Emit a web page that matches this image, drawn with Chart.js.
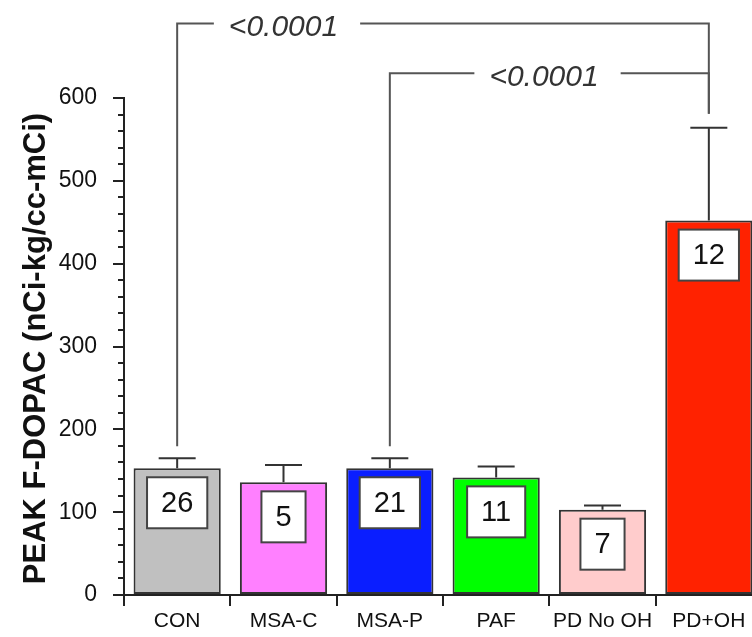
<!DOCTYPE html>
<html>
<head>
<meta charset="utf-8">
<script src="https://cdn.jsdelivr.net/npm/chart.js@4.4.1/dist/chart.umd.min.js"></script>
<style>
  html, body { margin: 0; padding: 0; background: #fff; overflow: hidden; width: 752px; height: 637px; }
  canvas { display: block; }
</style>
</head>
<body>
<canvas id="chart" width="780" height="637"></canvas>
<script>
// Peak 18F-DOPAC by patient group (mean, SEM, number of subjects)
const groups    = ['CON', 'MSA-C', 'MSA-P', 'PAF', 'PD No OH', 'PD+OH'];
const peakMeans = [153, 136, 153, 142, 103, 452];
const peakSEM   = [12, 21, 12, 13, 5, 112];
const groupN    = [26, 5, 21, 11, 7, 12];
const barColors = ['#c0c0c0', '#ff80ff', '#0a1eff', '#00ff00', '#ffcccc', '#ff2200'];

// y axis range and tick spacing
const yMin = 0, yMax = 600, yMajorStep = 100, yMinorStep = 20;

// pairwise comparisons: [group index, group index] and their p values
const comparisonPairs = [[0, 5], [2, 5]];
const pValues         = ['<0.0001', '<0.0001'];

const yTitle = 'PEAK F-DOPAC (nCi-kg/cc-mCi)';
const FONT = 'Arial, "Liberation Sans", sans-serif';
const INK = '#222';

// bracket levels (data units) and where the p-value sits along each bracket (category units)
const bracketStyle = [
  { level: 690, labelAt: 1.0 },
  { level: 630, labelAt: 3.45 }
];

const annotations = {
  id: 'annotations',
  afterDatasetsDraw(chart) {
    const { ctx, chartArea } = chart;
    const ys = chart.scales.y, xs = chart.scales.x;
    const meta = chart.getDatasetMeta(0);

    // minor y ticks
    ctx.save();
    ctx.strokeStyle = INK;
    ctx.lineWidth = 2;
    for (let v = yMin; v <= yMax; v += yMinorStep) {
      if (v % yMajorStep === 0) continue;
      const py = Math.round(ys.getPixelForValue(v));
      ctx.beginPath();
      ctx.moveTo(chartArea.left - 6, py);
      ctx.lineTo(chartArea.left, py);
      ctx.stroke();
    }
    // y axis continues a little below the origin
    ctx.beginPath();
    ctx.moveTo(chartArea.left, chartArea.bottom);
    ctx.lineTo(chartArea.left, chartArea.bottom + 11);
    ctx.stroke();
    ctx.restore();

    // error bars (upper only) and n boxes
    const capTops = [];
    meta.data.forEach((bar, i) => {
      const top = ys.getPixelForValue(peakMeans[i] + peakSEM[i]);
      capTops.push(top);
      ctx.save();
      ctx.strokeStyle = '#333';
      ctx.lineWidth = 2;
      ctx.beginPath();
      ctx.moveTo(bar.x, bar.y);
      ctx.lineTo(bar.x, top);
      ctx.moveTo(bar.x - 18.5, top);
      ctx.lineTo(bar.x + 18.5, top);
      ctx.stroke();

      ctx.font = '29px ' + FONT;
      const label = String(groupN[i]);
      const tw = ctx.measureText(label).width;
      const bw = tw + 28, bh = 51;
      const bx = bar.x - bw / 2, by = bar.y + 9;
      ctx.fillStyle = '#fff';
      ctx.fillRect(bx, by, bw, bh);
      ctx.strokeStyle = '#444';
      ctx.lineWidth = 2;
      ctx.strokeRect(bx, by, bw, bh);
      ctx.fillStyle = '#111';
      ctx.textAlign = 'center';
      ctx.textBaseline = 'middle';
      ctx.fillText(label, bar.x, by + bh / 2 + 1);
      ctx.restore();
    });

    // significance brackets
    const step = xs.getPixelForValue(1) - xs.getPixelForValue(0);
    comparisonPairs.forEach(([a, b], k) => {
      const st = bracketStyle[k];
      const yl = ys.getPixelForValue(st.level);
      const xa = meta.data[a].x, xb = meta.data[b].x;
      const lx = xs.getPixelForValue(0) + st.labelAt * step;
      ctx.save();
      ctx.font = 'italic 30px ' + FONT;
      const tw = ctx.measureText(pValues[k]).width;
      ctx.strokeStyle = '#555';
      ctx.lineWidth = 2;
      ctx.beginPath();
      ctx.moveTo(xa, capTops[a] - 12);
      ctx.lineTo(xa, yl);
      ctx.lineTo(lx - tw / 2 - 15, yl);
      ctx.moveTo(lx + tw / 2 + 22, yl);
      ctx.lineTo(xb, yl);
      ctx.lineTo(xb, capTops[b] - 14);
      ctx.stroke();
      ctx.fillStyle = '#333';
      ctx.textAlign = 'center';
      ctx.textBaseline = 'alphabetic';
      ctx.fillText(pValues[k], lx, yl + 12.5);
      ctx.restore();
    });

    // y axis title
    ctx.save();
    ctx.translate(36, (chartArea.top + chartArea.bottom) / 2 + 2);
    ctx.rotate(-Math.PI / 2);
    ctx.font = 'bold 31px ' + FONT;
    ctx.fillStyle = '#111';
    ctx.textAlign = 'center';
    ctx.textBaseline = 'middle';
    ctx.fillText(yTitle, 0, 0);
    ctx.restore();
  }
};

new Chart(document.getElementById('chart'), {
  type: 'bar',
  data: {
    labels: groups,
    datasets: [{
      data: peakMeans,
      backgroundColor: barColors,
      borderColor: '#333',
      borderWidth: 2,
      borderSkipped: false,
      categoryPercentage: 1.0,
      barPercentage: 0.82
    }]
  },
  options: {
    responsive: false,
    animation: false,
    devicePixelRatio: 1,
    layout: { padding: { top: 98, right: 18, left: 0, bottom: 0 } },
    plugins: { legend: { display: false }, tooltip: { enabled: false } },
    scales: {
      x: {
        offset: true,
        afterFit(scale) { scale.height = 42; },
        grid: { display: true, drawOnChartArea: false, offset: true, tickLength: 11, color: INK, lineWidth: 2 },
        border: { display: true, color: INK, width: 2 },
        ticks: { color: '#111', font: { size: 21, family: FONT }, padding: 3, maxRotation: 0, autoSkip: false }
      },
      y: {
        min: yMin,
        max: yMax,
        afterFit(scale) { scale.width = 124; },
        grid: {
          display: true,
          drawOnChartArea: false,
          tickLength: 11,
          lineWidth: 2,
          color: (c) => (c.tick && c.tick.value % yMajorStep === 0) ? INK : 'rgba(0,0,0,0)'
        },
        border: { display: true, color: INK, width: 2 },
        ticks: {
          stepSize: yMinorStep,
          autoSkip: false,
          padding: 16,
          color: '#111',
          font: { size: 23, family: FONT },
          callback: (v) => (v % yMajorStep === 0 ? String(v) : '')
        }
      }
    }
  },
  plugins: [annotations]
});
</script>
</body>
</html>
